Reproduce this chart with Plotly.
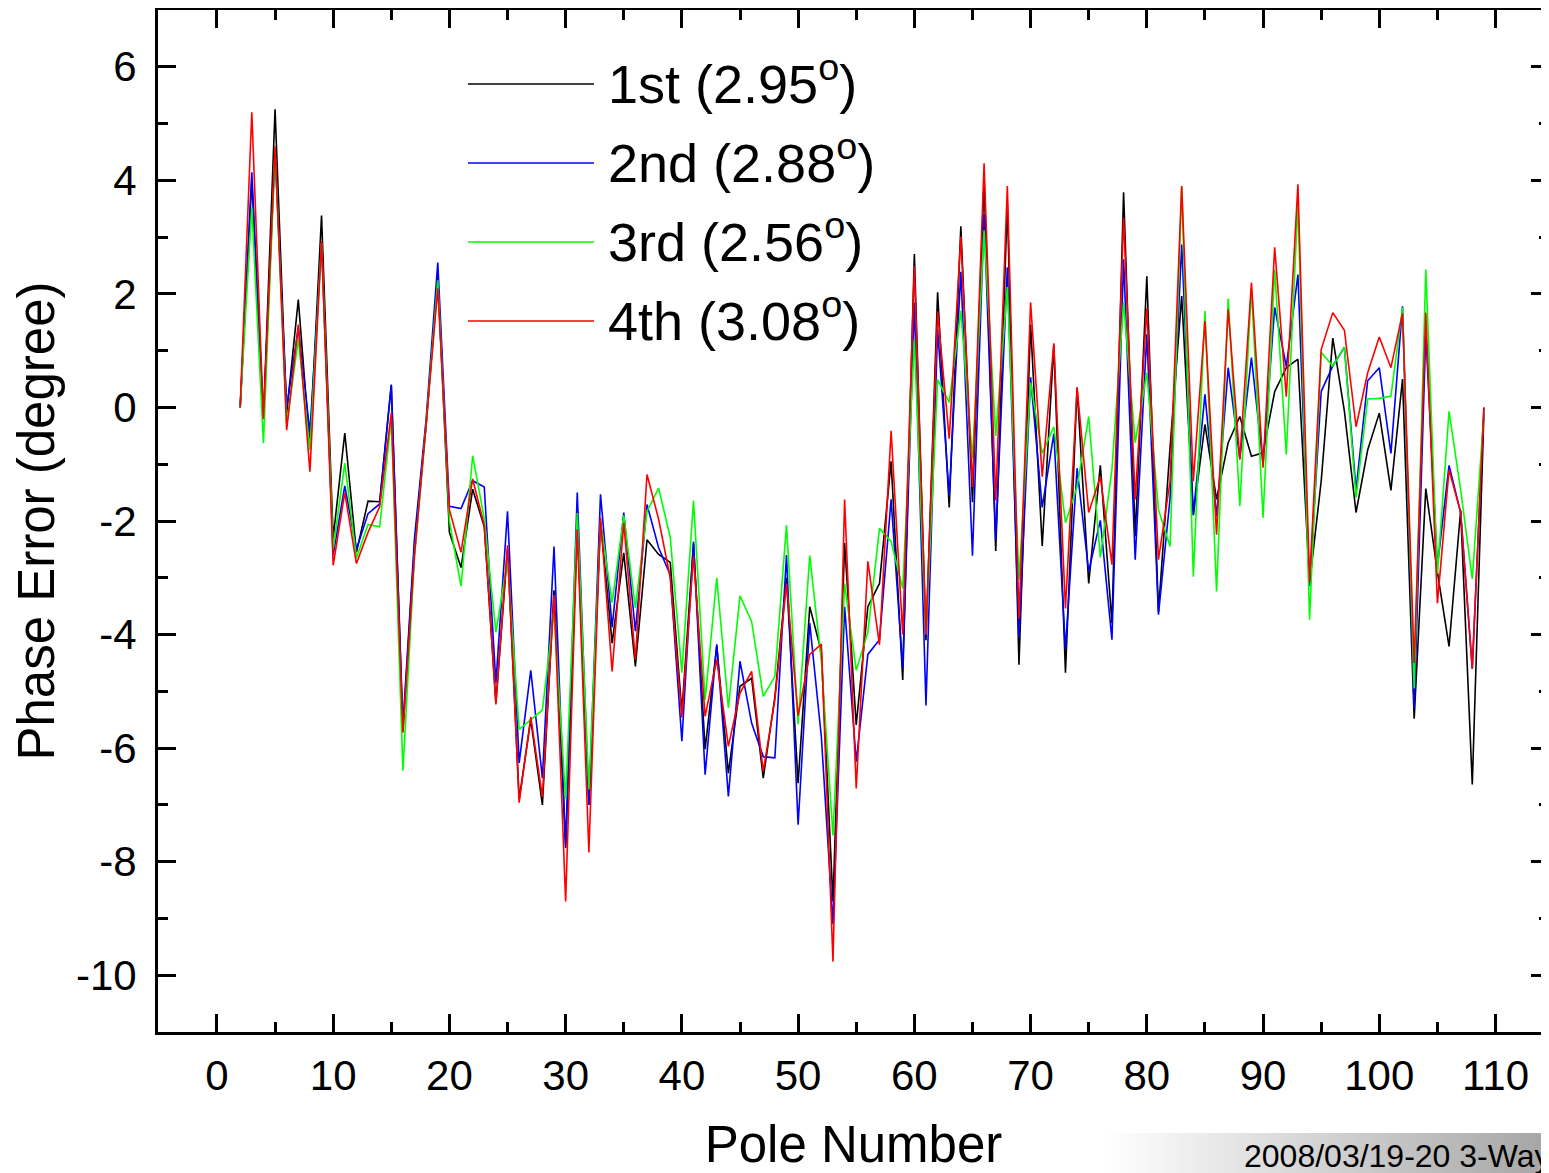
import plotly.graph_objects as go

# ---------------- data ----------------
poles = list(range(2, 110))

err_1st = [0, 4.0, -0.2, 5.25, -0.1, 1.9, -0.7, 3.38, -2.3, -0.45,
           -2.55, -1.65, -1.66, 0.4, -5.7, -2.4, -0.3, 2.3, -2.2, -2.82,
           -1.44, -2.1, -5.2, -2.5, -6.9, -5.5, -7.0, -3.22, -7.76, -2.1,
           -7.0, -2.0, -4.15, -2.56, -4.56, -2.33, -2.59, -2.73, -5.37, -2.4,
           -6.02, -4.2, -6.44, -4.91, -4.77, -6.53, -5.1, -3.0, -6.62, -3.51,
           -4.3, -8.7, -2.39, -5.59, -3.51, -3.1, -0.95, -4.8, 2.7, -4.1,
           2.03, -1.76, 3.19, -1.67, 4.0, -2.53, 3.6, -4.53, 1.46, -2.44,
           1.1, -4.67, 0.35, -3.1, -1.02, -3.8, 3.79, -2.27, 2.31, -3.6,
           -0.7, 1.96, -1.9, -0.3, -1.62, -0.62, -0.16, -0.86, -0.8, 0.28,
           0.7, 0.85, -3.1, -1.3, 1.22, -0.07, -1.85, -0.75, -0.1, -1.46,
           0.5, -5.48, -1.43, -2.9, -4.21, -1.81, -6.64, -0.1]

err_2nd = [0, 4.14, -0.2, 4.5, 0.0, 1.4, -0.44, 2.9, -2.6, -1.38,
           -2.5, -1.87, -1.7, 0.4, -5.6, -2.3, -0.2, 2.55, -1.74, -1.78,
           -1.29, -1.4, -4.85, -1.83, -6.26, -4.63, -6.53, -2.45, -7.73, -1.5,
           -7.0, -1.53, -3.87, -1.85, -3.94, -1.71, -2.47, -2.95, -5.88, -2.36,
           -6.47, -4.17, -6.85, -4.47, -5.56, -6.15, -6.17, -2.6, -7.35, -3.8,
           -5.8, -9.1, -3.51, -6.24, -4.35, -4.09, -1.62, -4.6, 1.85, -5.25,
           1.38, -1.55, 2.39, -2.61, 3.4, -2.33, 2.47, -4.05, 0.53, -1.76,
           -0.46, -4.26, -1.07, -2.89, -1.99, -4.09, 2.61, -2.68, 1.29, -3.65,
           -1.6, 2.87, -1.89, 0.23, -1.92, 0.7, -0.9, 0.88, -1.0, 1.76,
           0.72, 2.34, -3.15, 0.28, 0.73, 1.06, -1.45, 0.47, 0.7, -0.81,
           1.78, -5.3, 1.3, -2.8, -1.02, -1.85, -4.6, 0.0]

err_3rd = [0, 3.52, -0.63, 4.5, -0.3, 1.2, -0.75, 2.9, -2.5, -0.98,
           -2.65, -2.06, -2.1, -0.2, -6.4, -2.6, -0.3, 2.24, -2.0, -3.15,
           -0.85, -1.96, -3.96, -2.7, -5.67, -5.5, -5.33, -3.6, -6.9, -1.86,
           -6.73, -2.0, -3.44, -1.9, -3.53, -1.83, -1.42, -2.29, -4.67, -1.64,
           -5.15, -3.0, -5.29, -3.32, -3.77, -5.09, -4.74, -2.07, -5.58, -2.61,
           -4.47, -7.54, -3.1, -4.63, -3.96, -2.13, -2.36, -3.19, 1.2, -4.0,
           0.49, 0.09, 1.7, -0.9, 3.12, -0.5, 2.12, -3.03, 0.44, -0.81,
           -0.34, -2.03, -1.4, -0.16, -2.64, -1.09, 1.85, -0.62, 0.61, -1.8,
           -2.45, 3.9, -2.98, 1.7, -3.24, 1.92, -1.74, 2.1, -1.94, 2.43,
           -0.83, 3.6, -3.74, 0.97, 0.73, 1.06, -1.59, 0.15, 0.16, 0.2,
           1.76, -4.95, 2.43, -2.93, -0.07, -1.45, -3.02, -0.1]

err_4th = [0, 5.2, -0.2, 4.6, -0.4, 1.46, -1.13, 2.93, -2.78, -1.5,
           -2.75, -2.2, -1.75, -0.1, -5.73, -2.6, -0.3, 2.1, -1.8, -2.55,
           -1.26, -2.08, -5.23, -2.43, -6.96, -5.45, -6.86, -3.3, -8.7, -2.15,
           -7.84, -1.94, -4.65, -2.03, -4.44, -1.18, -1.97, -3.0, -5.46, -2.62,
           -5.44, -4.44, -5.97, -5.03, -4.65, -6.41, -5.15, -3.1, -5.43, -4.35,
           -4.17, -9.76, -1.62, -6.71, -2.71, -4.18, -0.41, -4.0, 2.48, -4.0,
           1.69, -0.55, 3.01, -1.4, 4.3, -1.64, 3.9, -3.72, 1.85, -1.22,
           1.13, -3.54, 0.35, -1.85, -1.22, -2.77, 3.34, -1.62, 1.74, -2.68,
           -1.3, 3.9, -1.3, 1.52, -2.24, 1.73, -0.92, 2.2, -1.06, 2.82,
           0.19, 3.93, -3.08, 1.02, 1.67, 1.36, -0.34, 0.61, 1.24, 0.7,
           1.66, -4.5, 1.67, -3.45, -1.1, -1.85, -4.6, 0.0]

series_names = ["1st", "2nd", "3rd", "4th"]
series_rms = ["2.95", "2.88", "2.56", "3.08"]
series_colors = ["#000000", "#0000ff", "#00ff00", "#ff0000"]

x_ticks = list(range(0, 111, 10))
y_ticks = [6, 4, 2, 0, -2, -4, -6, -8, -10]
y_tick_text = [str(v) for v in y_ticks]
stamp_text = "2008/03/19-20 3-Way"

# ---------------- layout geometry ----------------
# the page adds an 8px body margin; work in screen pixels and convert
OFF = 8
W, H = 1549 - OFF, 1173 - OFF
L, T = 158 - OFF, 10 - OFF
R = 0
B = H - (1032 - OFF)
PW, PH = W - L - R, H - T - B
FONT = "Arial, 'Liberation Sans', sans-serif"


def pxx(px):
    # screen pixel x -> paper coordinate
    return (px - OFF - L) / PW


def pxy(py):
    # screen pixel y -> paper coordinate
    return (H - B - (py - OFF)) / PH


fig = go.Figure()
all_series = [err_1st, err_2nd, err_3rd, err_4th]
for name, ys, col in zip(series_names, all_series, series_colors):
    fig.add_trace(go.Scatter(x=poles, y=ys, mode="lines", name=name,
                             line=dict(color=col, width=1.6),
                             showlegend=False))

shapes = []
annotations = []

# manual legend with long line samples
leg_rows = [84, 163, 242, 321]
for name, rms, col, py in zip(series_names, series_rms, series_colors, leg_rows):
    shapes.append(dict(type="line", xref="paper", yref="paper",
                       x0=pxx(468), x1=pxx(594), y0=pxy(py), y1=pxy(py),
                       line=dict(color=col, width=1.6)))
    annotations.append(dict(xref="paper", yref="paper", x=pxx(606), y=pxy(py - 4),
                            xanchor="left", yanchor="middle", showarrow=False,
                            text=f"{name} ({rms}<sup>o</sup>)",
                            font=dict(family=FONT, size=54, color="black")))

# gradient stamp background (bottom right)
N = 60
gx0, gx1 = 1105, 1549
for k in range(N):
    a = gx0 + (gx1 - gx0) * k / N
    b = gx0 + (gx1 - gx0) * (k + 1) / N
    g = int(round(255 - (255 - 165) * (k + 0.5) / N))
    shapes.append(dict(type="rect", xref="paper", yref="paper",
                       x0=pxx(a), x1=pxx(b) + 0.0005, y0=pxy(1173), y1=pxy(1133),
                       fillcolor=f"rgb({g},{g},{g})", line=dict(width=0),
                       layer="below"))
annotations.append(dict(xref="paper", yref="paper", x=pxx(1242), y=pxy(1156),
                        xanchor="left", yanchor="middle", showarrow=False,
                        text=stamp_text,
                        font=dict(family=FONT, size=32, color="black")))

fig.update_layout(
    width=W, height=H,
    margin=dict(l=L, r=R, t=T, b=B, autoexpand=False),
    paper_bgcolor="white", plot_bgcolor="white",
    font=dict(family=FONT, color="black"),
    shapes=shapes, annotations=annotations,
    showlegend=False,
)

fig.update_xaxes(
    range=[-5.07, 114.6], automargin=False,
    tickmode="array", tickvals=x_ticks,
    ticks="inside", ticklen=18, tickwidth=2.5, tickcolor="black",
    minor=dict(dtick=5, tick0=0, ticks="inside", ticklen=10, tickwidth=2.5, tickcolor="black"),
    showline=True, linewidth=3, linecolor="black", mirror="ticks",
    showgrid=False, zeroline=False,
    tickfont=dict(family=FONT, size=42, color="black"),
    ticklabelstandoff=5,
    title=dict(text="Pole Number", font=dict(family=FONT, size=51, color="black"), standoff=52),
)

fig.update_yaxes(
    range=[-11, 7], automargin=False,
    tickmode="array", tickvals=y_ticks, ticktext=y_tick_text,
    ticks="inside", ticklen=18, tickwidth=2.5, tickcolor="black",
    minor=dict(dtick=1, tick0=0, ticks="inside", ticklen=10, tickwidth=2.5, tickcolor="black"),
    showline=True, linewidth=3, linecolor="black", mirror="ticks",
    showgrid=False, zeroline=False,
    tickfont=dict(family=FONT, size=42, color="black"),
    ticklabelstandoff=10,
    title=dict(text="Phase Error (degree)", font=dict(family=FONT, size=51, color="black"), standoff=10),
)

fig.write_html("out.html")
